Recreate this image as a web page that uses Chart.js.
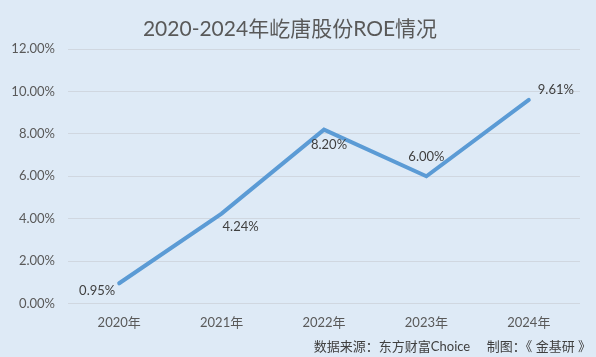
<!DOCTYPE html>
<html><head><meta charset="utf-8">
<script src="https://cdn.jsdelivr.net/npm/chart.js@4"></script>
<style>
html,body{margin:0;padding:0;background:#deeaf6;}
#wrap{width:596px;height:357px;position:relative;}
</style></head><body>
<div id="wrap"><canvas id="c" width="596" height="357"></canvas></div>
<script>
const categories = ['2020年','2021年','2022年','2023年','2024年'];
const roeValues = [0.95, 4.24, 8.20, 6.00, 9.61];
const yTicks = [0, 2, 4, 6, 8, 10, 12];
const titleText = '2020-2024年屹唐股份ROE情况';
const footerText = '数据来源：东方财富Choice     制图：《 金基研 》';

const FONT = 'Lato, "Noto Sans CJK SC", sans-serif';
const labelPos = ['left','below','below','above','right'];

const labelPlugin = {
  id: 'valLabels',
  afterDatasetsDraw(chart) {
    const ctx = chart.ctx;
    const meta = chart.getDatasetMeta(0);
    ctx.save();
    ctx.font = '13px ' + FONT;
    ctx.fillStyle = '#404040';
    ctx.textBaseline = 'middle';
    meta.data.forEach((pt, i) => {
      const txt = roeValues[i].toFixed(2) + '%';
      const p = labelPos[i];
      let x = pt.x, y = pt.y;
      if (p === 'left') { ctx.textAlign = 'right'; x -= 4; y += 8; }
      else if (p === 'right') { ctx.textAlign = 'left'; x += 9; y -= 10; }
      else if (p === 'below') { ctx.textAlign = 'center'; x += 19; y += 13; }
      else { ctx.textAlign = 'center'; y -= 19; }
      if (p === 'below' && i === 2) { x = pt.x + 5; y = pt.y + 15; }
      ctx.fillText(txt, x, y);
    });
    ctx.restore();
  }
};

const bgPlugin = {
  id: 'bg',
  beforeDraw(chart) {
    const ctx = chart.ctx;
    ctx.save();
    ctx.fillStyle = '#deeaf6';
    ctx.fillRect(0, 0, chart.width, chart.height);
    ctx.restore();
  },
  afterDraw(chart) {
    const ctx = chart.ctx;
    ctx.save();
    ctx.font = '13px ' + FONT;
    ctx.fillStyle = '#404040';
    ctx.textAlign = 'right';
    ctx.textBaseline = 'middle';
    ctx.fillText(footerText, chart.width - 5, chart.height - 10);
    ctx.restore();
  }
};

new Chart(document.getElementById('c'), {
  type: 'line',
  data: {
    labels: categories,
    datasets: [{
      data: roeValues,
      borderColor: '#5b9bd5',
      borderWidth: 4,
      pointRadius: 0,
      tension: 0,
      borderCapStyle: 'round',
      fill: false
    }]
  },
  options: {
    responsive: false,
    animation: false,
    devicePixelRatio: 1,
    layout: { padding: { left: 0, right: 16, top: 0, bottom: 22 } },
    plugins: {
      legend: { display: false },
      tooltip: { enabled: false },
      title: {
        display: true,
        text: titleText,
        color: '#595959',
        font: { family: FONT, size: 21, weight: 'normal' },
        padding: { top: 17, bottom: 7 }
      }
    },
    scales: {
      x: {
        offset: true,
        grid: { display: false, offset: true },
        border: { display: false },
        ticks: { color: '#595959', font: { family: FONT, size: 13 }, padding: 4 }
      },
      y: {
        min: 0, max: 12,
        afterBuildTicks(axis) { axis.ticks = yTicks.map(v => ({ value: v })); },
        afterFit(axis) { axis.width = 68; },
        grid: { color: '#d0d7e0', lineWidth: 1, drawTicks: false },
        border: { display: false },
        ticks: {
          color: '#595959',
          font: { family: FONT, size: 13 },
          padding: 13,
          callback: v => v.toFixed(2) + '%'
        }
      }
    }
  },
  plugins: [bgPlugin, labelPlugin]
});
</script>
</body></html>
